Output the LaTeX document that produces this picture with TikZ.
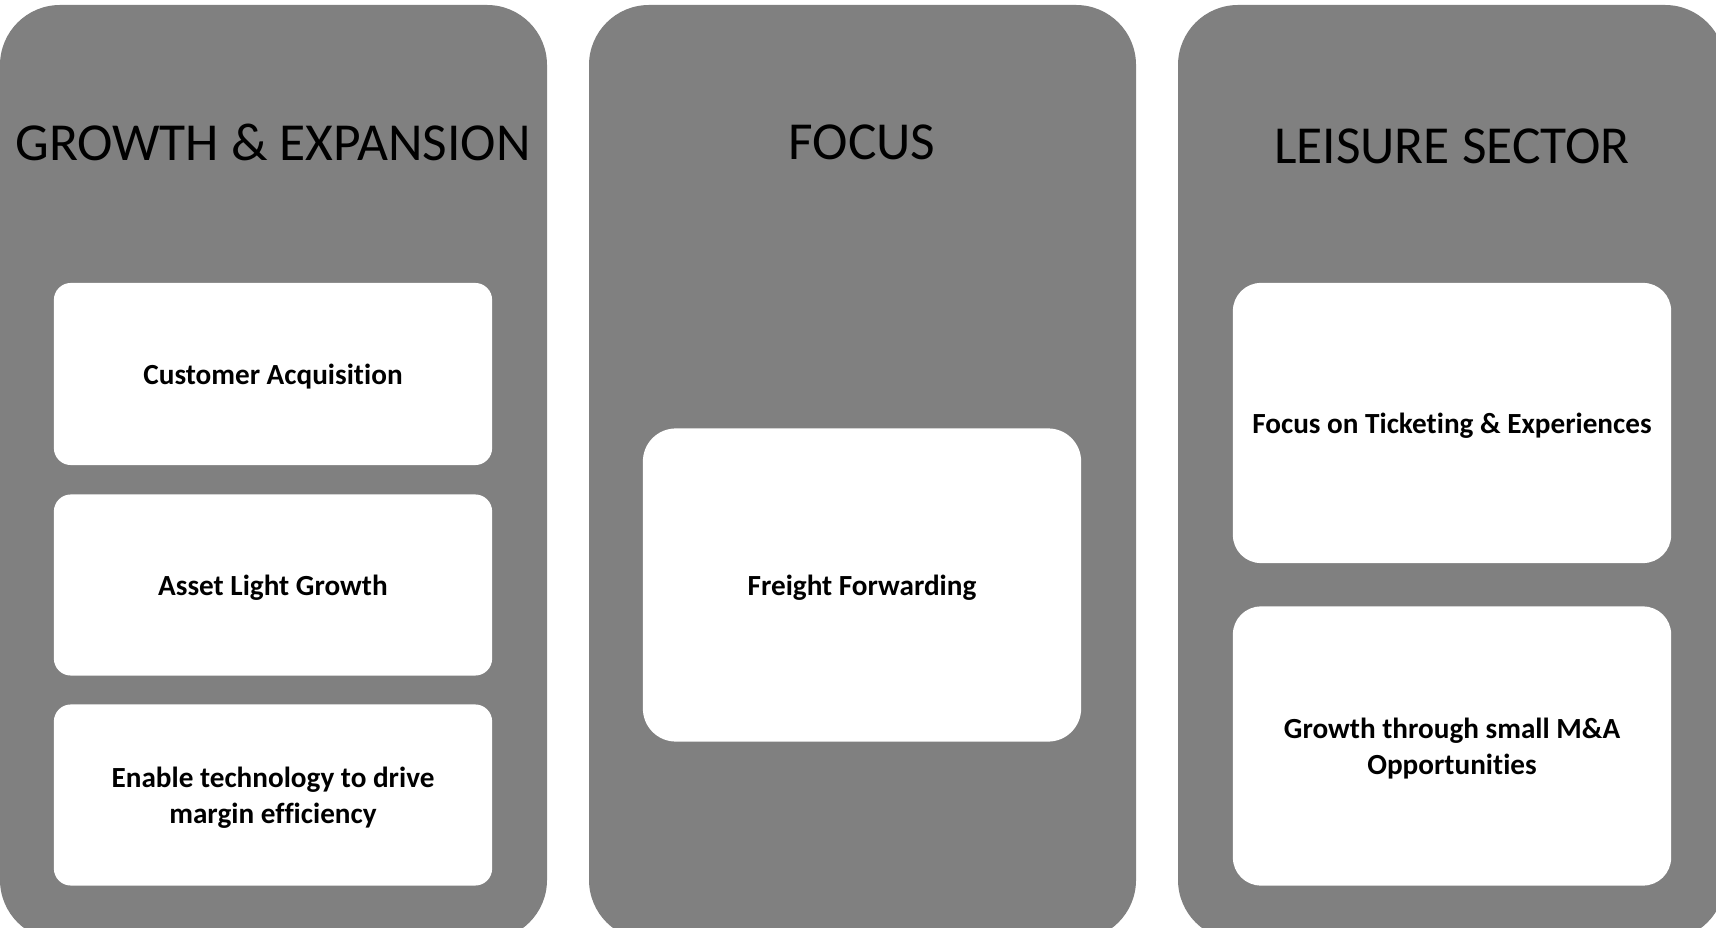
\documentclass[tikz,border=0pt]{standalone}
\usepackage{fontspec}
\setmainfont[Ligatures=NoCommon]{Carlito}
\usetikzlibrary{positioning}

\tikzset{
	pillar/.style={fill=black!50, rounded corners=0.6cm},
	heading/.style={font=\fontsize{15.2}{18}\selectfont, text=black, inner sep=0pt},
	card/.style={fill=white, rounded corners=#1, minimum width=4.38cm, inner sep=0pt,
		align=center, text depth=0pt, font=\fontsize{8.3}{10.2}\selectfont\bfseries},
	card/.default=0.17cm
}

\begin{document}
\begin{tikzpicture}[x=0.01cm, y=-0.01cm]
	\useasboundingbox (0, 0) rectangle (1716, 928);
	\clip (0, 0) rectangle (1716, 928);
	\fill[white] (0, 0) rectangle (1716, 928);
	% the three pillars
	\fill[pillar] (   0, 5) rectangle ( 547, 940);
	\fill[pillar] ( 589, 5) rectangle (1136, 940);
	\fill[pillar] (1178, 5) rectangle (1725, 940);
	%%%%%
	\node[heading] (growth)  at ( 273, 142) {GROWTH \& EXPANSION};
	\node[heading] (focus)   at ( 862, 142) {FOCUS};
	\node[heading] (leisure) at (1452, 146) {LEISURE SECTOR};
	%%%%%
	\node[card, minimum height=1.82cm] (acquire) at (273, 374) {Customer Acquisition};
	\node[card, minimum height=1.81cm] (asset)   at (273, 585) {Asset Light Growth};
	\node[card, minimum height=1.81cm] (tech)    at (273, 795) {Enable technology to drive\\margin efficiency};
	\node[card=0.33cm, minimum height=3.13cm] (freight) at (862, 585) {Freight Forwarding};
	\node[card=0.28cm, minimum height=2.80cm] (ticket)  at (1452, 423) {Focus on Ticketing \& Experiences};
	\node[card=0.28cm, minimum height=2.79cm] (merger)  at (1452, 746) {Growth through small M\&A\\Opportunities};
\end{tikzpicture}
\end{document}
